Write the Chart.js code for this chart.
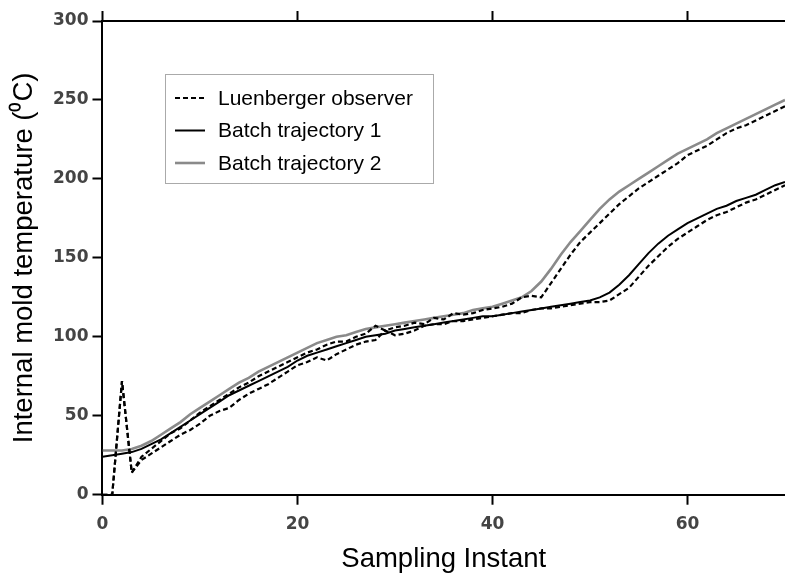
<!DOCTYPE html>
<html>
<head>
<meta charset="utf-8">
<script src="https://cdn.jsdelivr.net/npm/chart.js@4"></script>
<style>
  html, body { margin: 0; padding: 0; background: #fff; }
  #wrap { width: 785px; height: 574px; }
</style>
</head>
<body>
<div id="wrap"><canvas id="chart"></canvas></div>
<script>
// sampling instants 0..70
const samples = Array.from({ length: 71 }, (_, i) => i);

const batch1 = [24, 25, 26, 27, 29, 32, 35, 39, 43, 47, 51, 55, 59, 63, 66, 69, 72, 75, 78, 81,
  85, 88, 90, 92, 94, 96, 98, 100, 101, 102, 104, 105, 106, 107, 108, 109, 110, 111, 112, 113,
  113, 114, 115, 116, 117, 118, 119, 120, 121, 122, 123, 125, 128, 133, 139, 146, 153, 159, 164, 168,
  172, 175, 178, 181, 183, 186, 188, 190, 193, 196, 198];

const batch2 = [28, 28, 28, 29, 31, 34, 38, 42, 46, 51, 55, 59, 63, 67, 71, 74, 78, 81, 84, 87,
  90, 93, 96, 98, 100, 101, 103, 105, 106, 107, 108, 109, 110, 111, 112, 113, 114, 115, 117, 118,
  119, 121, 123, 125, 129, 135, 143, 152, 160, 167, 174, 181, 187, 192, 196, 200, 204, 208, 212, 216,
  219, 222, 225, 229, 232, 235, 238, 241, 244, 247, 250];

const observer1 = [0, 0, 72, 14, 22, 26, 30, 34, 38, 41, 45, 50, 53, 55, 60, 64, 67, 70, 74, 78,
  82, 84, 87, 85, 89, 92, 95, 97, 98, 104, 101, 102, 104, 107, 108, 108, 110, 110, 111, 112,
  113, 114, 115, 115, 117, 118, 118, 119, 120, 121, 122, 122, 123, 127, 131, 138, 145, 151, 157, 162,
  166, 170, 174, 177, 179, 182, 185, 187, 190, 193, 196];

const observer2 = [0, 0, 72, 14, 24, 29, 34, 39, 42, 47, 52, 56, 60, 64, 68, 71, 75, 78, 81, 84,
  87, 90, 92, 95, 97, 97, 100, 102, 107, 104, 106, 107, 109, 108, 112, 111, 115, 114, 115, 117,
  118, 119, 121, 125, 126, 125, 134, 143, 152, 160, 166, 172, 178, 184, 189, 194, 198, 202, 206, 210,
  215, 218, 221, 225, 229, 232, 234, 237, 240, 243, 246];

const xTicks = [0, 20, 40, 60];
const yTicks = [0, 50, 100, 150, 200, 250, 300];

const legendItems = [
  { text: 'Luenberger observer', color: '#000', dash: [5, 3], width: 2.2 },
  { text: 'Batch trajectory 1', color: '#000', dash: [], width: 2 },
  { text: 'Batch trajectory 2', color: '#8a8a8a', dash: [], width: 2.6 }
];

const toPts = arr => arr.map((v, i) => ({ x: samples[i], y: v }));

// legend box drawn inside the plot
const boxLegend = {
  id: 'boxLegend',
  afterDraw(chart) {
    const ctx = chart.ctx;
    ctx.save();
    ctx.setLineDash([1, 1]);
    ctx.strokeStyle = '#555';
    ctx.lineWidth = 1;
    ctx.strokeRect(165.5, 74.5, 268, 109);
    ctx.font = '21px "Liberation Sans", Arial, sans-serif';
    ctx.textBaseline = 'middle';
    ctx.fillStyle = '#000';
    legendItems.forEach((it, i) => {
      const y = 98 + i * 32.5;
      ctx.setLineDash(it.dash);
      ctx.strokeStyle = it.color;
      ctx.lineWidth = it.width;
      ctx.beginPath();
      ctx.moveTo(175, y);
      ctx.lineTo(205, y);
      ctx.stroke();
      ctx.fillText(it.text, 218, y + 1);
    });
    ctx.restore();
  }
};

const keepTicks = list => scale => {
  scale.ticks = list.map(v => ({ value: v }));
};

new Chart(document.getElementById('chart'), {
  type: 'line',
  data: {
    datasets: [
      { data: toPts(observer1), borderColor: '#000', borderWidth: 2.2, borderDash: [5, 3] },
      { data: toPts(observer2), borderColor: '#000', borderWidth: 2.2, borderDash: [5, 3] },
      { data: toPts(batch1), borderColor: '#000', borderWidth: 2 },
      { data: toPts(batch2), borderColor: '#8a8a8a', borderWidth: 2.6 }
    ]
  },
  options: {
    responsive: true,
    maintainAspectRatio: false,
    animation: false,
    elements: { point: { radius: 0 }, line: { tension: 0 } },
    layout: { padding: { top: 11, right: 0, bottom: 0, left: 8 } },
    plugins: { legend: { display: false }, tooltip: { enabled: false } },
    scales: {
      x: {
        type: 'linear', position: 'bottom', min: 0, max: 70,
        afterBuildTicks: keepTicks(xTicks),
        border: { display: true, color: '#000', width: 2 },
        grid: { drawOnChartArea: false, drawTicks: true, tickLength: 10, tickWidth: 2, tickColor: '#000' },
        ticks: { color: '#444', padding: 10, font: { family: '"DejaVu Sans"', weight: 'bold', size: 17 } },
        title: { display: true, text: 'Sampling Instant', color: '#000', padding: { top: 0, bottom: 0 },
          font: { family: '"Liberation Sans", Arial', size: 27.5, lineHeight: 1.05 } }
      },
      x2: {
        type: 'linear', position: 'top', min: 0, max: 70,
        afterBuildTicks: keepTicks(xTicks),
        border: { display: true, color: '#000', width: 2 },
        grid: { drawOnChartArea: false, drawTicks: true, tickLength: 10, tickWidth: 2, tickColor: '#000' },
        ticks: { display: false }
      },
      y: {
        type: 'linear', min: 0, max: 300,
        afterBuildTicks: keepTicks(yTicks),
        border: { display: true, color: '#000', width: 2 },
        grid: { drawOnChartArea: false, drawTicks: true, tickLength: 10, tickWidth: 2, tickColor: '#000' },
        ticks: { color: '#444', padding: 4, font: { family: '"DejaVu Sans"', weight: 'bold', size: 17 } },
        title: { display: true, text: 'Internal mold temperature (\u2070C)', color: '#000', padding: { top: 0, bottom: 8 },
          font: { family: '"Liberation Sans", Arial', size: 27.5 } }
      }
    }
  },
  plugins: [boxLegend]
});
</script>
</body>
</html>
